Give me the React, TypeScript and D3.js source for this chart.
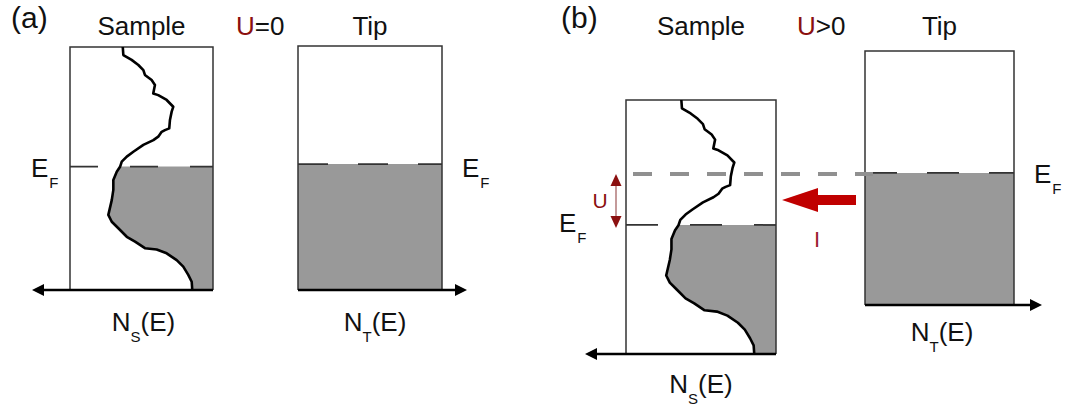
import React from "react";
import * as d3 from "d3";

// Sample density of states (normalized): density measured from right edge leftwards, energy from bottom (0) to top (1)
const sampleDensity = [0.631, 0.627, 0.569, 0.522, 0.487, 0.476, 0.429, 0.406, 0.418, 0.383, 0.324, 0.278, 0.289, 0.301, 0.306, 0.336, 0.359, 0.383, 0.417, 0.487, 0.557, 0.603, 0.638, 0.65, 0.673, 0.697, 0.697, 0.708, 0.732, 0.708, 0.662, 0.603, 0.545, 0.476, 0.394, 0.324, 0.254, 0.208, 0.173, 0.149, 0.145];
const sampleEnergy = [1.0, 0.967, 0.947, 0.926, 0.905, 0.885, 0.864, 0.844, 0.809, 0.802, 0.782, 0.754, 0.734, 0.7, 0.665, 0.658, 0.651, 0.631, 0.617, 0.597, 0.569, 0.549, 0.528, 0.507, 0.487, 0.453, 0.412, 0.37, 0.309, 0.281, 0.254, 0.219, 0.199, 0.172, 0.167, 0.151, 0.123, 0.096, 0.062, 0.034, 0.0];
// Fermi levels (fraction of box height) for panels (a) and (b)
const sampleFermi = [0.508, 0.508];
const tipFermi = [0.516, 0.52];
const panelLabels = ["(a)", "(b)"];
const biasLabels = [["U", "=0"], ["U", ">0"]];

const FONT = "'Liberation Sans', Arial, sans-serif";
const DARKRED = "#8B1010";
const GRAY = "#999999";

type Box = { left: number; right: number; top: number; bottom: number; arrow: number };

const layouts = [
  {
    label: { x: 11, y: 28 },
    bias: { x: 236, y: 35 },
    sample: { left: 70, right: 213, top: 47, bottom: 290, arrow: 32 } as Box,
    tip: { left: 298, right: 442, top: 46, bottom: 290, arrow: 467 } as Box,
    sDash: "28,32",
    tDash: "30,30",
    efLeft: { x: 31, y: 177 },
    efRight: { x: 462, y: 177 },
    nsLabel: { x: 143.5, y: 331 },
    ntLabel: { x: 375, y: 331 },
  },
  {
    label: { x: 561, y: 28 },
    bias: { x: 797, y: 35 },
    sample: { left: 626, right: 776, top: 100, bottom: 354, arrow: 585 } as Box,
    tip: { left: 865, right: 1014, top: 51, bottom: 305, arrow: 1042 } as Box,
    sDash: "32,32",
    tDash: "32,30",
    efLeft: { x: 559, y: 232 },
    efRight: { x: 1034, y: 183 },
    nsLabel: { x: 701, y: 393 },
    ntLabel: { x: 942, y: 341 },
  },
];

function ArrowHead({ x, y, dir }: { x: number; y: number; dir: number }) {
  const L = 12, W = 6;
  return <path d={`M${x},${y} L${x - dir * L},${y - W} L${x - dir * L},${y + W} Z`} fill="#000" />;
}

function EF({ x, y }: { x: number; y: number }) {
  return (
    <text x={x} y={y} fontFamily={FONT} fontSize={26} fill="#111">
      E<tspan fontSize={15} dy={11} dx={1}>F</tspan>
    </text>
  );
}

function NLabel({ x, y, sub }: { x: number; y: number; sub: string }) {
  return (
    <text x={x} y={y} fontFamily={FONT} fontSize={26} fill="#111" textAnchor="middle">
      N<tspan fontSize={15} dy={11}>{sub}</tspan><tspan dy={-11}>(E)</tspan>
    </text>
  );
}

function Panel({ idx }: { idx: number }) {
  const L = layouts[idx];
  const s = L.sample, t = L.tip;
  const sx = d3.scaleLinear().domain([0, 1]).range([s.right, s.left]);
  const sy = d3.scaleLinear().domain([0, 1]).range([s.bottom, s.top]);
  const tx = d3.scaleLinear().domain([0, 1]).range([t.left, t.right]);
  const ty = d3.scaleLinear().domain([0, 1]).range([t.bottom, t.top]);
  const pts: [number, number][] = sampleDensity.map((d, i) => [d, sampleEnergy[i]]);
  const ef = sampleFermi[idx];
  const below: [number, number][] = [];
  for (let i = 0; i < pts.length; i++) {
    if (pts[i][1] <= ef) {
      if (below.length === 0 && i > 0) {
        const a = pts[i - 1], b = pts[i];
        const f = (a[1] - ef) / (a[1] - b[1]);
        below.push([a[0] + f * (b[0] - a[0]), ef]);
      }
      below.push(pts[i]);
    }
  }
  const line = d3.line<[number, number]>().x((p) => sx(p[0])).y((p) => sy(p[1]));
  const area = d3.area<[number, number]>().y((p) => sy(p[1])).x0(sx(0)).x1((p) => sx(p[0]));
  const tipArea = d3.area<[number, number]>().y((p) => ty(p[1])).x0(tx(0)).x1((p) => tx(p[0]));
  const tf = tipFermi[idx];
  const tipPts: [number, number][] = [[1, tf], [1, 0]];
  const sEFy = sy(ef);
  const tEFy = ty(tf);
  const title = (x: number, txt: string) => (
    <text x={x} y={35} fontFamily={FONT} fontSize={26} fill="#111" textAnchor="middle">{txt}</text>
  );
  return (
    <g>
      <text x={L.label.x} y={L.label.y} fontFamily={FONT} fontSize={30} fill="#111">{panelLabels[idx]}</text>
      {title((s.left + s.right) / 2, "Sample")}
      {title((t.left + t.right) / 2, "Tip")}
      <text x={L.bias.x} y={L.bias.y} fontFamily={FONT} fontSize={26} fill="#111">
        <tspan fill={DARKRED}>{biasLabels[idx][0]}</tspan>{biasLabels[idx][1]}
      </text>
      {/* sample box */}
      <path d={area(below) || ""} fill={GRAY} />
      <path d={`M${s.left},${s.bottom} V${s.top} H${s.right} V${s.bottom}`} fill="none" stroke="#333" strokeWidth={1.5} />
      <line x1={s.left} x2={s.right} y1={sEFy} y2={sEFy} stroke="#333" strokeWidth={1.8} strokeDasharray={L.sDash} />
      <path d={line(pts) || ""} fill="none" stroke="#000" strokeWidth={2.6} strokeLinejoin="round" />
      <line x1={s.right} x2={s.arrow + 10} y1={s.bottom} y2={s.bottom} stroke="#000" strokeWidth={2.6} />
      <ArrowHead x={s.arrow} y={s.bottom} dir={-1} />
      {/* tip box */}
      <path d={tipArea(tipPts) || ""} fill={GRAY} />
      <path d={`M${t.left},${t.bottom} V${t.top} H${t.right} V${t.bottom}`} fill="none" stroke="#333" strokeWidth={1.5} />
      <line x1={t.left} x2={t.right} y1={tEFy} y2={tEFy} stroke="#333" strokeWidth={1.8} strokeDasharray={L.tDash} />
      <line x1={t.left} x2={t.arrow - 10} y1={t.bottom} y2={t.bottom} stroke="#000" strokeWidth={2.6} />
      <ArrowHead x={t.arrow} y={t.bottom} dir={1} />
      <EF x={L.efLeft.x} y={L.efLeft.y} />
      <EF x={L.efRight.x} y={L.efRight.y} />
      <NLabel x={L.nsLabel.x} y={L.nsLabel.y} sub="S" />
      <NLabel x={L.ntLabel.x} y={L.ntLabel.y} sub="T" />
      {idx === 1 && (
        <g>
          <line x1={633} x2={873} y1={tEFy + 1} y2={tEFy + 1} stroke="#909090" strokeWidth={4} strokeDasharray="19,18" />
          {/* U double arrow */}
          <line x1={616} x2={616} y1={tEFy + 8} y2={sEFy - 8} stroke="#b07878" strokeWidth={1.5} />
          <path d={`M616,${tEFy + 1} L610.5,${tEFy + 13} L621.5,${tEFy + 13} Z`} fill={DARKRED} />
          <path d={`M616,${sEFy + 3} L610.5,${sEFy - 9} L621.5,${sEFy - 9} Z`} fill={DARKRED} />
          <text x={600} y={208} fontFamily={FONT} fontSize={21} fill={DARKRED} textAnchor="middle">U</text>
          {/* current arrow */}
          <path d="M782,200 L818,188 L818,195 L856,195 L856,205 L818,205 L818,212 Z" fill="#C00000" />
          <text x={817} y={247} fontFamily={FONT} fontSize={22} fill="#9B1B30" textAnchor="middle">I</text>
        </g>
      )}
    </g>
  );
}

export default function App() {
  return (
    <svg width={1065} height={408} style={{ position: "absolute", left: 0, top: 0, background: "#fff" }}>
      <rect width={1065} height={408} fill="#fff" />
      <Panel idx={0} />
      <Panel idx={1} />
    </svg>
  );
}
